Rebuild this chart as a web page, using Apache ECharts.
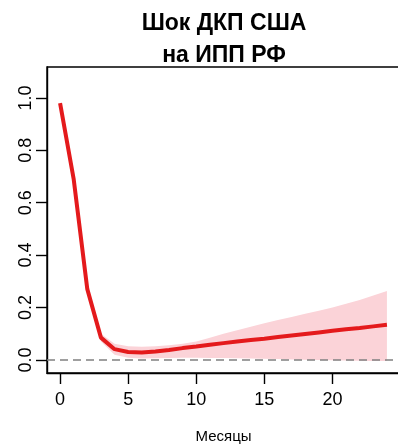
<!DOCTYPE html>
<html>
<head>
<meta charset="utf-8">
<script src="https://cdn.jsdelivr.net/npm/echarts@6/dist/echarts.min.js"></script>
<style>
  html, body { margin: 0; padding: 0; background: #fff; }
  #chart { width: 398px; height: 444px; }
</style>
</head>
<body>
<div id="chart"></div>
<script>
// horizon, months
var months = [0, 1, 2, 3, 4, 5, 6, 7, 8, 9, 10, 11, 12, 13, 14, 15, 16, 17, 18, 19, 20, 21, 22, 23, 24];
// impulse response (point estimate)
var irf = [0.98, 0.69, 0.27, 0.085, 0.041, 0.030, 0.028, 0.032, 0.038, 0.045, 0.051, 0.058, 0.064,
           0.070, 0.076, 0.081, 0.087, 0.093, 0.099, 0.105, 0.111, 0.117, 0.122, 0.128, 0.134];
// confidence band
var lower = [0.975, 0.675, 0.255, 0.070, 0.020, 0.008, 0.005, 0.006, 0.007, 0.008, 0.008, 0.007, 0.007,
             0.006, 0.005, 0.004, 0.003, 0.002, 0.001, 0.000, -0.001, -0.002, -0.003, -0.004, -0.004];
var upper = [0.985, 0.705, 0.285, 0.100, 0.062, 0.052, 0.050, 0.052, 0.056, 0.062, 0.070, 0.085, 0.100,
             0.113, 0.127, 0.140, 0.152, 0.164, 0.176, 0.188, 0.200, 0.214, 0.229, 0.246, 0.263];
var xTicks = [0, 5, 10, 15, 20];
var yTicks = [0, 0.2, 0.4, 0.6, 0.8, 1.0];

var font = 'Liberation Sans, Arial, Helvetica, sans-serif';
var chart = echarts.init(document.getElementById('chart'), null, { renderer: 'canvas' });

function pairs(vals) {
  return months.map(function (m, i) { return [m, vals[i]]; });
}

// band polygon: upper edge left->right, then lower edge right->left
function renderBand(params, api) {
  var pts = [];
  for (var i = 0; i < months.length; i++) pts.push(api.coord([months[i], upper[i]]));
  for (var j = months.length - 1; j >= 0; j--) pts.push(api.coord([months[j], lower[j]]));
  return {
    type: 'polygon',
    shape: { points: pts },
    style: { fill: '#fbd3d8', stroke: null }
  };
}

var option = {
  animation: false,
  backgroundColor: '#fff',
  title: {
    text: 'Шок ДКП США\nна ИПП РФ',
    left: 224,
    top: 8,
    padding: 0,
    textAlign: 'center',
    textStyle: { fontFamily: font, fontSize: 23, fontWeight: 'bold', color: '#000', lineHeight: 32 }
  },
  grid: {
    left: 47, right: -2, top: 67, bottom: 71,
    outerBoundsMode: 'none',
    containLabel: false,
    show: true, borderColor: '#000', borderWidth: 1.4, backgroundColor: 'transparent'
  },
  xAxis: {
    type: 'value',
    min: -0.96, max: 24.96,
    name: 'Месяцы',
    nameLocation: 'middle',
    nameGap: 56,
    nameTextStyle: { fontFamily: font, fontSize: 15, color: '#000' },
    axisLine: { show: true, onZero: false, lineStyle: { color: '#000', width: 1.4 } },
    axisTick: { show: true, length: 11, customValues: xTicks, lineStyle: { color: '#000', width: 1.4 } },
    axisLabel: { customValues: xTicks, margin: 18, fontFamily: font, fontSize: 18, color: '#000' },
    splitLine: { show: false }
  },
  yAxis: {
    type: 'value',
    min: -0.05, max: 1.118,
    axisLine: { show: true, onZero: false, lineStyle: { color: '#000', width: 1.4 } },
    axisTick: { show: true, length: 11, customValues: yTicks, lineStyle: { color: '#000', width: 1.4 } },
    axisLabel: {
      customValues: yTicks, rotate: 90, margin: 12,
      fontFamily: font, fontSize: 18, color: '#000',
      formatter: function (v) { return v.toFixed(1); }
    },
    splitLine: { show: false }
  },
  series: [
    {
      name: 'band',
      type: 'custom',
      renderItem: renderBand,
      data: [[0, 0]],
      silent: true,
      z: 1
    },
    {
      name: 'zero',
      type: 'line',
      data: [],
      silent: true,
      z: 2,
      markLine: {
        silent: true,
        symbol: 'none',
        label: { show: false },
        lineStyle: { color: '#808080', type: [8, 5], width: 1.5 },
        data: [{ yAxis: 0 }]
      }
    },
    {
      name: 'IRF',
      type: 'line',
      data: pairs(irf),
      symbol: 'none',
      lineStyle: { color: '#e41a1c', width: 4 },
      z: 5
    }
  ]
};

chart.setOption(option);
window.addEventListener('resize', chart.resize);
</script>
</body>
</html>
